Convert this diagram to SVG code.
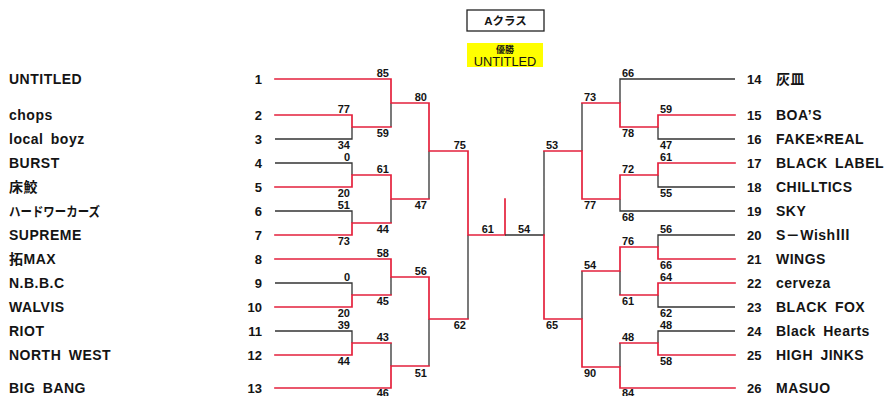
<svg xmlns="http://www.w3.org/2000/svg" width="888" height="396" viewBox="0 0 888 396">
<style>
.r{stroke:#e4213c;stroke-width:1.7;fill:none;stroke-linecap:square}
.k{stroke:#333;stroke-width:1.3;fill:none}
text{font-family:"Liberation Sans","Noto Sans CJK JP",sans-serif;fill:#141414}
.nm{font-size:14px;font-weight:bold;letter-spacing:0.5px;word-spacing:3px}
.no{font-size:13px;font-weight:bold}
.sc{font-size:11px;font-weight:bold}
.le{text-anchor:end}
.mid{text-anchor:middle}
</style>
<rect width="888" height="396" fill="#fff"/>

<g id="title">
<rect x="467" y="10" width="77" height="21" fill="#fff" stroke="#222" stroke-width="1.3"/>
<text x="505.5" y="25" class="mid" style="font-size:11.5px;font-weight:bold">Aクラス</text>
</g>
<g id="champion">
<rect x="467" y="43" width="76" height="24" fill="#ffff00"/>
<text x="505" y="52.5" class="mid" style="font-size:9px;font-weight:bold">優勝</text>
<text x="505" y="66" class="mid" style="font-size:12.8px">UNTITLED</text>
</g>

<g id="connectors">
<path class="k" d="M275 139H352V127M275 163H352V175M275 211H352V223M275 283H352V295M275 331H352V343M391 103V127M391 199V223M391 277V295M391 343V366M429 151V199M429 319V366M468 235V319"/>
<path class="r" d="M275 79H391V103H429V151H468V235H505V199M275 115H352V127H391M275 187H352V175H391V199H429M275 235H352V223H391M275 259H391V277H429V319H468M275 307H352V295H391M275 355H352V343H391M275 388H391V366H429"/>
<path class="k" d="M735 79H620V103M735 139H658V127M735 187H658V175M735 211H620V199M735 235H658V247M735 307H658V295M735 331H658V343M620 271V295M620 343V367M582 103V151M582 271V319M544 151V235H505"/>
<path class="r" d="M735 115H658V127H620V103H582M735 163H658V175H620V199H582V151H544M735 259H658V247H620V271H582M735 283H658V295H620M735 355H658V343H620M735 388H620V367H582V319H544V235"/>
</g>

<g id="scores">
<text class="sc le" x="389" y="77">85</text>
<text class="sc le" x="350" y="113">77</text>
<text class="sc le" x="389" y="137">59</text>
<text class="sc le" x="350" y="149">34</text>
<text class="sc le" x="350" y="161">0</text>
<text class="sc le" x="389" y="173">61</text>
<text class="sc le" x="350" y="197">20</text>
<text class="sc le" x="350" y="209">51</text>
<text class="sc le" x="389" y="233">44</text>
<text class="sc le" x="350" y="245">73</text>
<text class="sc le" x="389" y="257">58</text>
<text class="sc le" x="350" y="281">0</text>
<text class="sc le" x="389" y="305">45</text>
<text class="sc le" x="350" y="317">20</text>
<text class="sc le" x="350" y="329">39</text>
<text class="sc le" x="389" y="341">43</text>
<text class="sc le" x="350" y="365">44</text>
<text class="sc le" x="389" y="397">46</text>
<text class="sc le" x="427" y="101">80</text>
<text class="sc le" x="427" y="209">47</text>
<text class="sc le" x="427" y="275">56</text>
<text class="sc le" x="427" y="377">51</text>
<text class="sc le" x="466" y="149">75</text>
<text class="sc le" x="466" y="329">62</text>
<text class="sc le" x="494" y="233">61</text>
<text class="sc" x="518" y="233">54</text>
<text class="sc" x="622" y="77">66</text>
<text class="sc" x="660" y="113">59</text>
<text class="sc" x="622" y="137">78</text>
<text class="sc" x="660" y="149">47</text>
<text class="sc" x="660" y="161">61</text>
<text class="sc" x="622" y="173">72</text>
<text class="sc" x="660" y="197">55</text>
<text class="sc" x="622" y="221">68</text>
<text class="sc" x="660" y="233">56</text>
<text class="sc" x="622" y="245">76</text>
<text class="sc" x="660" y="269">66</text>
<text class="sc" x="660" y="281">64</text>
<text class="sc" x="622" y="305">61</text>
<text class="sc" x="660" y="317">62</text>
<text class="sc" x="660" y="329">48</text>
<text class="sc" x="622" y="341">48</text>
<text class="sc" x="660" y="365">58</text>
<text class="sc" x="622" y="397">84</text>
<text class="sc" x="584" y="101">73</text>
<text class="sc" x="584" y="209">77</text>
<text class="sc" x="584" y="269">54</text>
<text class="sc" x="584" y="377">90</text>
<text class="sc" x="546" y="149">53</text>
<text class="sc" x="546" y="329">65</text>
</g>

<g id="team-1"><text class="nm" x="9" y="84">UNTITLED</text><text class="no le" x="262" y="84">1</text></g>
<g id="team-2"><text class="nm" x="9" y="120">chops</text><text class="no le" x="262" y="120">2</text></g>
<g id="team-3"><text class="nm" x="9" y="144">local boyz</text><text class="no le" x="262" y="144">3</text></g>
<g id="team-4"><text class="nm" x="9" y="168">BURST</text><text class="no le" x="262" y="168">4</text></g>
<g id="team-5"><text class="nm" x="9" y="192">床鮫</text><text class="no le" x="262" y="192">5</text></g>
<g id="team-6"><text class="nm" x="9" y="216" style="font-size:13px;letter-spacing:0" textLength="91" lengthAdjust="spacingAndGlyphs">ハードワーカーズ</text><text class="no le" x="262" y="216">6</text></g>
<g id="team-7"><text class="nm" x="9" y="240">SUPREME</text><text class="no le" x="262" y="240">7</text></g>
<g id="team-8"><text class="nm" x="9" y="264">拓MAX</text><text class="no le" x="262" y="264">8</text></g>
<g id="team-9"><text class="nm" x="9" y="288">N.B.B.C</text><text class="no le" x="262" y="288">9</text></g>
<g id="team-10"><text class="nm" x="9" y="312">WALVIS</text><text class="no le" x="262" y="312">10</text></g>
<g id="team-11"><text class="nm" x="9" y="336">RIOT</text><text class="no le" x="262" y="336">11</text></g>
<g id="team-12"><text class="nm" x="9" y="360">NORTH WEST</text><text class="no le" x="262" y="360">12</text></g>
<g id="team-13"><text class="nm" x="9" y="393">BIG BANG</text><text class="no le" x="262" y="393">13</text></g>

<g id="team-14"><text class="no" x="747" y="84">14</text><text class="nm" x="776" y="84">灰皿</text></g>
<g id="team-15"><text class="no" x="747" y="120">15</text><text class="nm" x="776" y="120">BOA’S</text></g>
<g id="team-16"><text class="no" x="747" y="144">16</text><text class="nm" x="776" y="144">FAKE×REAL</text></g>
<g id="team-17"><text class="no" x="747" y="168">17</text><text class="nm" x="776" y="168">BLACK LABEL</text></g>
<g id="team-18"><text class="no" x="747" y="192">18</text><text class="nm" x="776" y="192">CHILLTICS</text></g>
<g id="team-19"><text class="no" x="747" y="216">19</text><text class="nm" x="776" y="216">SKY</text></g>
<g id="team-20"><text class="no" x="747" y="240">20</text><text class="nm" x="776" y="240">S－Wish<tspan style="font-family:'Noto Sans CJK JP',sans-serif">Ⅲ</tspan></text></g>
<g id="team-21"><text class="no" x="747" y="264">21</text><text class="nm" x="776" y="264">WINGS</text></g>
<g id="team-22"><text class="no" x="747" y="288">22</text><text class="nm" x="776" y="288">cerveza</text></g>
<g id="team-23"><text class="no" x="747" y="312">23</text><text class="nm" x="776" y="312">BLACK FOX</text></g>
<g id="team-24"><text class="no" x="747" y="336">24</text><text class="nm" x="776" y="336">Black Hearts</text></g>
<g id="team-25"><text class="no" x="747" y="360">25</text><text class="nm" x="776" y="360">HIGH JINKS</text></g>
<g id="team-26"><text class="no" x="747" y="393">26</text><text class="nm" x="776" y="393">MASUO</text></g>
</svg>
